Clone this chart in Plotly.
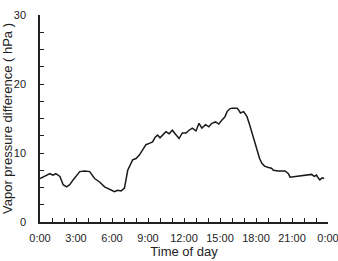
import plotly.graph_objects as go

hours = [0, 0.55, 0.83, 1.08, 1.32, 1.66, 1.93, 2.21, 2.48, 2.76, 3.06, 3.31, 3.73, 4.14,
         4.55, 4.97, 5.38, 5.79, 6.21, 6.46, 6.76, 7.04, 7.31, 7.72, 8.0, 8.28, 8.53, 8.83,
         9.11, 9.38, 9.6, 9.8, 10.0, 10.2, 10.49, 10.76, 11.03, 11.26, 11.59, 11.86, 12.17,
         12.42, 12.69, 13.0, 13.25, 13.49, 13.8, 14.07, 14.32, 14.63, 14.9, 15.17, 15.4,
         15.59, 15.81, 16.0, 16.42, 16.56, 16.7, 16.97, 17.24, 17.45, 17.66, 17.86, 18.07,
         18.3, 18.49, 18.71, 19.04, 19.29, 19.45, 19.87, 20.42, 20.7, 20.84, 21.28, 21.6,
         22.08, 22.35, 22.63, 22.85, 23.04, 23.18, 23.32, 23.51, 23.68]
vpd = [6.3, 6.8, 7.0, 6.8, 7.0, 6.6, 5.4, 5.1, 5.4, 6.1, 6.7, 7.3, 7.4, 7.3,
       6.3, 5.8, 5.1, 4.7, 4.4, 4.6, 4.5, 4.9, 7.5, 9.0, 9.2, 9.7, 10.4, 11.2,
       11.4, 11.6, 12.3, 12.6, 12.2, 12.6, 13.1, 12.8, 13.3, 12.8, 12.1, 12.9, 12.9,
       13.3, 13.6, 13.2, 14.3, 13.6, 14.1, 13.8, 14.3, 14.5, 14.2, 14.8, 15.2,
       16.0, 16.4, 16.5, 16.5, 16.2, 15.8, 16.0, 15.3, 14.2, 12.9, 11.6, 10.4,
       9.2, 8.5, 8.1, 7.9, 7.8, 7.5, 7.4, 7.4, 7.0, 6.5, 6.6, 6.6,
       6.7, 6.8, 6.9, 6.6, 6.8, 6.4, 6.1, 6.4, 6.3]

xtick_vals = [0, 3, 6, 9, 12, 15, 18, 21, 24]
xtick_text = ["0:00", "3:00", "6:00", "9:00", "12:00", "15:00", "18:00", "21:00", "0:00"]
ytick_vals = [0, 10, 20, 30]

fig = go.Figure()
fig.add_trace(go.Scatter(x=hours, y=vpd, mode="lines",
                         line=dict(color="#1a1a1a", width=1.5), showlegend=False))

fnt = dict(family="Liberation Sans, Arial, sans-serif", size=11, color="#222")
fig.update_layout(
    width=338, height=261,
    margin=dict(l=40, r=10, t=15, b=39),
    paper_bgcolor="white", plot_bgcolor="white",
    font=fnt,
    xaxis=dict(range=[0, 24], tickvals=xtick_vals, ticktext=xtick_text,
               ticks="inside", ticklen=4, tickwidth=1, tickcolor="#222",
               minor=dict(dtick=1, ticks="inside", ticklen=4, tickcolor="#222"),
               showline=True, linecolor="#222", linewidth=1.5, showgrid=False,
               zeroline=False, ticklabelstandoff=5, ticklabeloverflow="allow",
               automargin=False,
               title=dict(text="Time of day", standoff=4)),
    yaxis=dict(range=[0, 30], tickvals=ytick_vals,
               ticks="inside", ticklen=4, tickwidth=1, tickcolor="#222",
               minor=dict(dtick=2.5, ticks="inside", ticklen=4, tickcolor="#222"),
               showline=True, linecolor="#222", linewidth=1.5, showgrid=False,
               zeroline=False, ticklabelstandoff=10, automargin=False,
               title=dict(text="Vapor pressure difference ( hPa )", standoff=4)),
)
fig.write_html("out.html")
